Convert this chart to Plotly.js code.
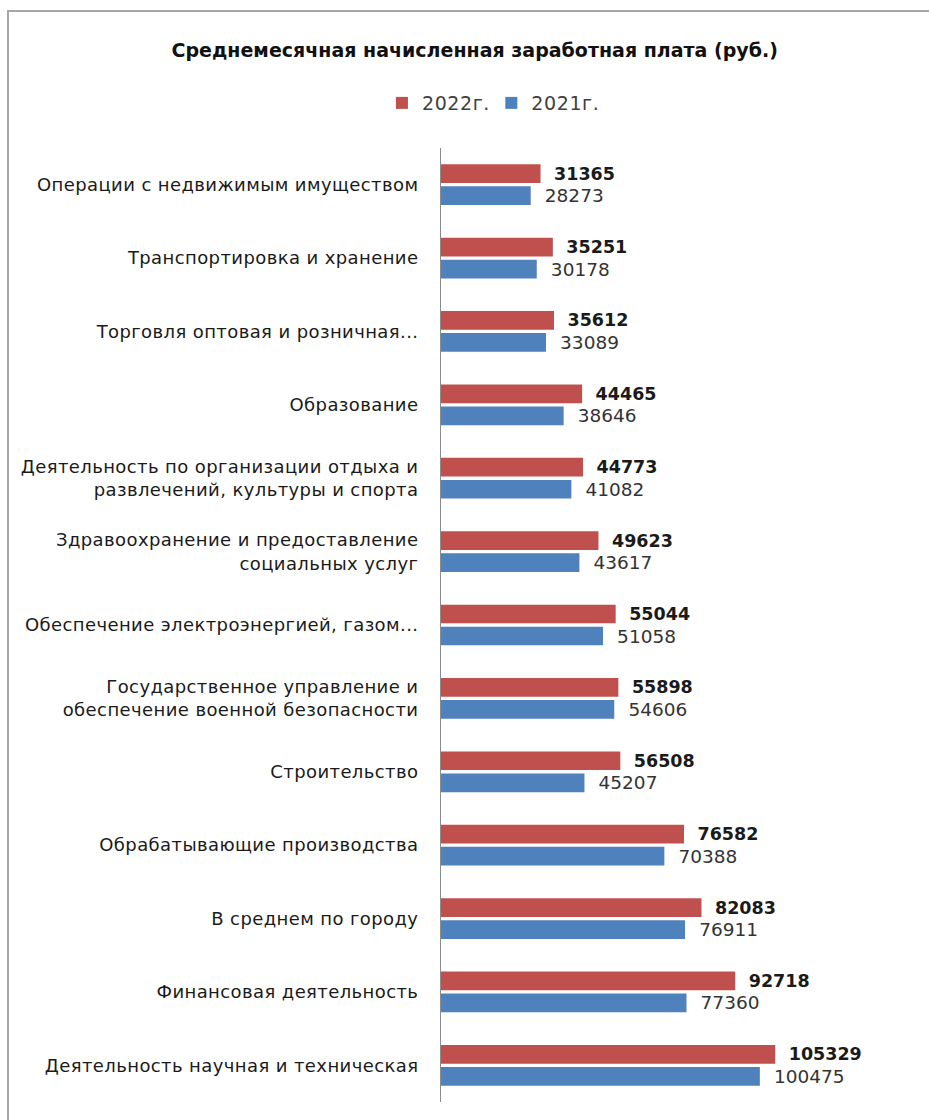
<!DOCTYPE html>
<html>
<head>
<meta charset="utf-8">
<script src="https://cdn.plot.ly/plotly-3.0.1.min.js"></script>
<style>
html,body{margin:0;padding:0;background:#fff;overflow:hidden;}
#chart{position:absolute;left:0;top:0;width:929px;height:1120px;}
#frame{position:absolute;left:7px;top:10px;width:1000px;height:1200px;border-left:2px solid #a6a6a6;border-top:2px solid #a6a6a6;pointer-events:none;}
#chart .ytick text{letter-spacing:0.4px;}
#chart .legendtext{letter-spacing:0.6px;}
</style>
</head>
<body>
<div id="chart"></div>
<div id="frame"></div>
<script>
var categories = [
  "Операции с недвижимым имуществом",
  "Транспортировка и хранение",
  "Торговля оптовая и розничная...",
  "Образование",
  "Деятельность по организации отдыха и<br>развлечений, культуры и спорта",
  "Здравоохранение и предоставление<br>социальных услуг",
  "Обеспечение электроэнергией, газом...",
  "Государственное управление и<br>обеспечение военной безопасности",
  "Строительство",
  "Обрабатывающие производства",
  "В среднем по городу",
  "Финансовая деятельность",
  "Деятельность научная и техническая"
];
var values2022 = [31365, 35251, 35612, 44465, 44773, 49623, 55044, 55898, 56508, 76582, 82083, 92718, 105329];
var values2021 = [28273, 30178, 33089, 38646, 41082, 43617, 51058, 54606, 45207, 70388, 76911, 77360, 100475];
var seriesNames = ["2022г.", "2021г."];

var FONT = "DejaVu Sans";

var traces = [
  {
    type: "bar", orientation: "h", name: seriesNames[0],
    y: categories, x: values2022,
    marker: {color: "#C0504D"},
    text: values2022.map(String),
    texttemplate: "\u2002\u200a%{text}",
    textposition: "outside", constraintext: "none", cliponaxis: false,
    textfont: {family: FONT, size: 17.5, color: "#1a1a1a", weight: "bold"},
    hoverinfo: "x+y"
  },
  {
    type: "bar", orientation: "h", name: seriesNames[1],
    y: categories, x: values2021,
    marker: {color: "#4F81BD"},
    text: values2021.map(String),
    texttemplate: "\u2002\u200a%{text}",
    textposition: "outside", constraintext: "none", cliponaxis: false,
    textfont: {family: FONT, size: 18.5, color: "#333333"},
    hoverinfo: "x+y"
  }
];

var layout = {
  width: 929, height: 1120,
  margin: {l: 441, r: 12, t: 148, b: 18},
  paper_bgcolor: "rgba(0,0,0,0)", plot_bgcolor: "rgba(0,0,0,0)",
  font: {family: FONT, color: "#222"},
  title: {
    text: "<b>Среднемесячная начисленная заработная плата (руб.)</b>",
    font: {family: FONT, size: 19, color: "#111"},
    xref: "container", x: 0.511, xanchor: "center",
    yref: "container", y: 0.955, yanchor: "middle"
  },
  showlegend: true,
  legend: {
    orientation: "h", xref: "container", yref: "container",
    x: 0.529, xanchor: "center", y: 0.908, yanchor: "middle",
    font: {family: FONT, size: 19, color: "#404040"},
    traceorder: "normal", itemwidth: 30
  },
  barmode: "group",
  bargap: 0.4,
  bargroupgap: 0.15,
  xaxis: {
    range: [0, 150000], showticklabels: false, showgrid: false,
    zeroline: false, showline: false, ticks: ""
  },
  yaxis: {
    autorange: "reversed", type: "category",
    showline: true, linecolor: "#8c8c8c", linewidth: 1,
    ticks: "", showgrid: false, ticklabelstandoff: 18,
    tickfont: {family: FONT, size: 18, color: "#1a1a1a"}
  }
};

Plotly.newPlot("chart", traces, layout, {displayModeBar: false, staticPlot: true});
</script>
</body>
</html>
